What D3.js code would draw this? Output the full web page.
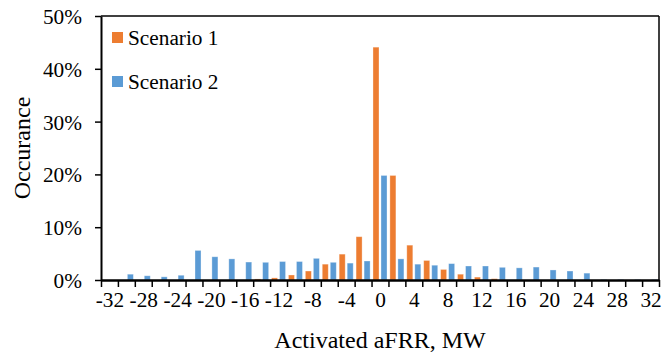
<!DOCTYPE html>
<html>
<head>
<meta charset="utf-8">
<script src="https://cdn.jsdelivr.net/npm/d3@7"></script>
<style>
  body { margin: 0; background: #fff; }
  svg text { font-family: "Liberation Serif", "Times New Roman", serif; fill: #000; }
</style>
</head>
<body>
<div id="chart"></div>
<script>
// activated aFRR bins, MW
var categories = [-32, -30, -28, -26, -24, -22, -20, -18, -16, -14, -12, -10, -8, -6, -4, -2,
  0, 2, 4, 6, 8, 10, 12, 14, 16, 18, 20, 22, 24, 26, 28, 30, 32];
// occurance in %
var scenario1 = [0, 0, 0, 0, 0, 0, 0, 0, 0, 0.2, 0.4, 0.95, 1.7, 3.0, 4.9, 8.2,
  44.1, 19.8, 6.6, 3.7, 2.0, 1.1, 0.55, 0.25, 0, 0, 0, 0, 0, 0, 0, 0, 0];
var scenario2 = [0, 1.1, 0.8, 0.6, 0.9, 5.6, 4.4, 4.0, 3.4, 3.35, 3.5, 3.5, 4.1, 3.35, 3.2, 3.6,
  19.8, 4.0, 3.0, 2.8, 3.1, 2.65, 2.65, 2.4, 2.3, 2.45, 1.9, 1.7, 1.3, 0.1, 0.1, 0.1, 0.1];
var seriesNames = ['Scenario 1', 'Scenario 2'];
var xTickLabels = [-32, -28, -24, -20, -16, -12, -8, -4, 0, 4, 8, 12, 16, 20, 24, 28, 32];
var yTicks = [0, 10, 20, 30, 40, 50];

var width = 662, height = 357;
var margin = {top: 16, right: 3, bottom: 77, left: 101};
var colors = ['#ED7D31', '#5B9BD5'];

var svg = d3.select('#chart').append('svg')
  .attr('width', width)
  .attr('height', height);

var x = d3.scaleBand()
  .domain(categories)
  .range([margin.left, width - margin.right])
  .padding(0);

var xSub = d3.scaleBand()
  .domain(seriesNames)
  .range([0, x.bandwidth()])
  .paddingInner(0.25)
  .paddingOuter(0.18);

// linear scale sharing the same pixels, for ticks between categories
var xLin = d3.scaleLinear()
  .domain([-33, 33])
  .range([margin.left, width - margin.right]);

var y = d3.scaleLinear()
  .domain([0, 50])
  .range([height - margin.bottom, margin.top]);

var rows = categories.map(function(c, i) {
  return {cat: c, values: [scenario1[i], scenario2[i]]};
});

// frame top and right
svg.append('line')
  .attr('x1', margin.left).attr('x2', width - margin.right)
  .attr('y1', y(50)).attr('y2', y(50))
  .attr('stroke', '#000').attr('stroke-width', 1.5);
svg.append('line')
  .attr('x1', width - margin.right).attr('x2', width - margin.right)
  .attr('y1', y(50)).attr('y2', y(0))
  .attr('stroke', '#000').attr('stroke-width', 1.5);

var groups = svg.selectAll('g.cat')
  .data(rows)
  .enter().append('g')
  .attr('class', 'cat')
  .attr('transform', function(d) { return 'translate(' + x(d.cat) + ',0)'; });

groups.selectAll('rect')
  .data(function(d) { return d.values.map(function(v, k) { return {name: seriesNames[k], v: v, k: k}; }); })
  .enter().append('rect')
  .filter(function(d) { return d.v > 0; })
  .attr('x', function(d) { return xSub(d.name); })
  .attr('y', function(d) { return y(d.v); })
  .attr('width', xSub.bandwidth())
  .attr('height', function(d) { return y(0) - y(d.v); })
  .attr('fill', function(d) { return colors[d.k]; })
  .attr('stroke', '#fff')
  .attr('stroke-opacity', 0.4)
  .attr('stroke-width', 0.8);

// y axis
var yAxis = svg.append('g')
  .attr('transform', 'translate(' + margin.left + ',0)')
  .call(d3.axisLeft(y).tickValues(yTicks).tickSize(6).tickSizeOuter(0)
    .tickFormat(function(d) { return d + '%'; }));
yAxis.select('.domain').attr('stroke-width', 2);
yAxis.selectAll('.tick line').attr('stroke-width', 1.5);
yAxis.selectAll('.tick text')
  .attr('x', -19)
  .attr('dy', '0.35em')
  .style('font-size', '21.3px');

// x axis: ticks between categories
var boundaries = d3.range(-33, 34, 2);
var xAxis = svg.append('g')
  .attr('transform', 'translate(0,' + y(0) + ')')
  .call(d3.axisBottom(xLin).tickValues(boundaries).tickSize(7).tickSizeOuter(0).tickFormat(''));
xAxis.select('.domain').attr('stroke-width', 2.5);
xAxis.selectAll('.tick line').attr('stroke-width', 1.5);

var xLabels = svg.append('g')
  .attr('transform', 'translate(0,' + y(0) + ')')
  .call(d3.axisBottom(xLin).tickValues(xTickLabels).tickSize(0).tickPadding(20)
    .tickFormat(function(d) { return String(d); }));
xLabels.select('.domain').remove();
xLabels.selectAll('.tick text')
  .attr('dy', '0.35em')
  .attr('y', 20)
  .style('font-size', '21.3px');

// axis titles
svg.append('text')
  .attr('x', (margin.left + width - margin.right) / 2)
  .attr('y', 348)
  .attr('text-anchor', 'middle')
  .style('font-size', '24px')
  .text('Activated aFRR, MW');

svg.append('text')
  .attr('transform', 'translate(30,' + 148 + ') rotate(-90)')
  .attr('text-anchor', 'middle')
  .style('font-size', '24px')
  .text('Occurance');

// legend
var legend = svg.selectAll('g.legend')
  .data(seriesNames)
  .enter().append('g')
  .attr('class', 'legend')
  .attr('transform', function(d, i) { return 'translate(112,' + (32 + i * 44) + ')'; });
legend.append('rect')
  .attr('width', 11).attr('height', 11)
  .attr('fill', function(d, i) { return colors[i]; });
legend.append('text')
  .attr('x', 16)
  .attr('y', 5.5)
  .attr('dy', '0.35em')
  .style('font-size', '21.3px')
  .text(function(d) { return d; });
</script>
</body>
</html>
